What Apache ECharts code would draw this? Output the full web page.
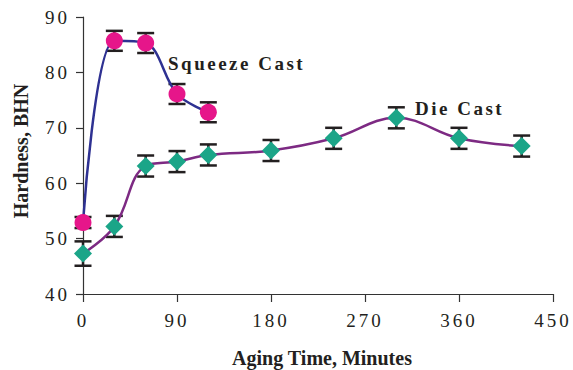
<!DOCTYPE html>
<html>
<head>
<meta charset="utf-8">
<script src="https://cdn.jsdelivr.net/npm/echarts@6/dist/echarts.min.js"></script>
<style>
  html, body { margin: 0; padding: 0; background: #fff; }
  #main { width: 573px; height: 370px; }
</style>
</head>
<body>
<div id="main"></div>
<script>
// aging time (min) and hardness (BHN)
var sqTime = [0, 30, 60, 90, 120];
var sqHard = [52.9, 85.7, 85.3, 76.1, 72.8];
var sqErr = [1.0, 1.8, 1.8, 1.8, 1.8];

var dcTime = [0, 30, 60, 90, 120, 180, 240, 300, 360, 420];
var dcHard = [47.3, 52.2, 63.1, 63.9, 65.1, 65.9, 68.1, 71.8, 68.1, 66.7];
var dcErr = [2.2, 1.9, 1.9, 1.9, 1.9, 1.9, 1.9, 1.9, 1.9, 1.9];

var xTicks = [0, 90, 180, 270, 360, 450];
var yTicks = [40, 50, 60, 70, 80, 90];

var serif = '"Liberation Serif", "Times New Roman", serif';
var ink = '#231f20';

function pairs(xs, ys) {
  return xs.map(function (x, i) { return [x, ys[i]]; });
}
function errRows(xs, ys, es) {
  return xs.map(function (x, i) { return [x, ys[i] - es[i], ys[i] + es[i]]; });
}

function errBar(params, api) {
  var lo = api.coord([api.value(0), api.value(1)]);
  var hi = api.coord([api.value(0), api.value(2)]);
  var w = 8.5;
  var st = { stroke: ink, lineWidth: 2.5 };
  return {
    type: 'group',
    children: [
      { type: 'line', shape: { x1: lo[0], y1: lo[1], x2: hi[0], y2: hi[1] }, style: st },
      { type: 'line', shape: { x1: lo[0] - w, y1: lo[1], x2: lo[0] + w, y2: lo[1] }, style: st },
      { type: 'line', shape: { x1: hi[0] - w, y1: hi[1], x2: hi[0] + w, y2: hi[1] }, style: st }
    ]
  };
}

var chart = echarts.init(document.getElementById('main'), null, { renderer: 'svg' });

chart.setOption({
  animation: false,
  grid: { left: 83, right: 20, top: 17, bottom: 76 },
  xAxis: {
    type: 'value',
    min: xTicks[0],
    max: xTicks[xTicks.length - 1],
    interval: 90,
    splitLine: { show: false },
    axisLine: { lineStyle: { color: '#333', width: 1.2 } },
    axisTick: { length: 8, lineStyle: { color: '#333', width: 1.2 } },
    axisLabel: { margin: 17, color: ink, fontSize: 19, fontFamily: serif }
  },
  yAxis: {
    type: 'value',
    min: yTicks[0],
    max: yTicks[yTicks.length - 1],
    interval: 10,
    splitLine: { show: false },
    axisLine: { show: true, lineStyle: { color: '#333', width: 1.2 } },
    axisTick: { show: true, length: 7, lineStyle: { color: '#333', width: 1.2 } },
    axisLabel: { margin: 13, color: ink, fontSize: 19, fontFamily: serif }
  },
  graphic: [
    { type: 'text', x: 322, y: 358, style: { text: 'Aging Time, Minutes', font: 'bold 20px ' + serif, fill: ink, align: 'center', verticalAlign: 'middle', textAlign: 'center', textVerticalAlign: 'middle' } },
    { type: 'text', x: 21, y: 151, rotation: Math.PI / 2, style: { text: 'Hardness, BHN', font: 'bold 20px ' + serif, fill: ink, align: 'center', verticalAlign: 'middle', textAlign: 'center', textVerticalAlign: 'middle' } },
    { type: 'text', x: 168, y: 63, style: { text: 'Squeeze Cast', font: 'bold 19px ' + serif, fill: ink, align: 'left', verticalAlign: 'middle', textAlign: 'left', textVerticalAlign: 'middle' } },
    { type: 'text', x: 415, y: 108, style: { text: 'Die Cast', font: 'bold 19px ' + serif, fill: ink, align: 'left', verticalAlign: 'middle', textAlign: 'left', textVerticalAlign: 'middle' } }
  ],
  series: [
    {
      name: 'Squeeze Cast',
      type: 'line',
      z: 3,
      smooth: 0.35,
      data: pairs(sqTime, sqHard),
      symbol: 'circle',
      symbolSize: 17,
      itemStyle: { color: '#e6168a' },
      lineStyle: { color: '#2e3192', width: 2.5 }
    },
    {
      name: 'Die Cast',
      type: 'line',
      z: 3,
      smooth: 0.4,
      data: pairs(dcTime, dcHard),
      symbol: 'diamond',
      symbolSize: 18,
      itemStyle: { color: '#1ba588' },
      lineStyle: { color: '#7d2a83', width: 2.5 }
    },
    {
      type: 'custom',
      z: 2,
      renderItem: errBar,
      data: errRows(sqTime, sqHard, sqErr)
    },
    {
      type: 'custom',
      z: 2,
      renderItem: errBar,
      data: errRows(dcTime, dcHard, dcErr)
    }
  ]
});

// the original lettering is widely spaced on the tick labels and the two series notes
function spaceText() {
  var nodes = document.querySelectorAll('#main svg text');
  for (var i = 0; i < nodes.length; i++) {
    var t = nodes[i].textContent;
    if (/^\d+$/.test(t)) nodes[i].setAttribute('letter-spacing', '3px');
    else if (t === 'Squeeze Cast' || t === 'Die Cast') nodes[i].setAttribute('letter-spacing', '2.5px');
  }
}
chart.on('finished', spaceText);
spaceText();
</script>
</body>
</html>
